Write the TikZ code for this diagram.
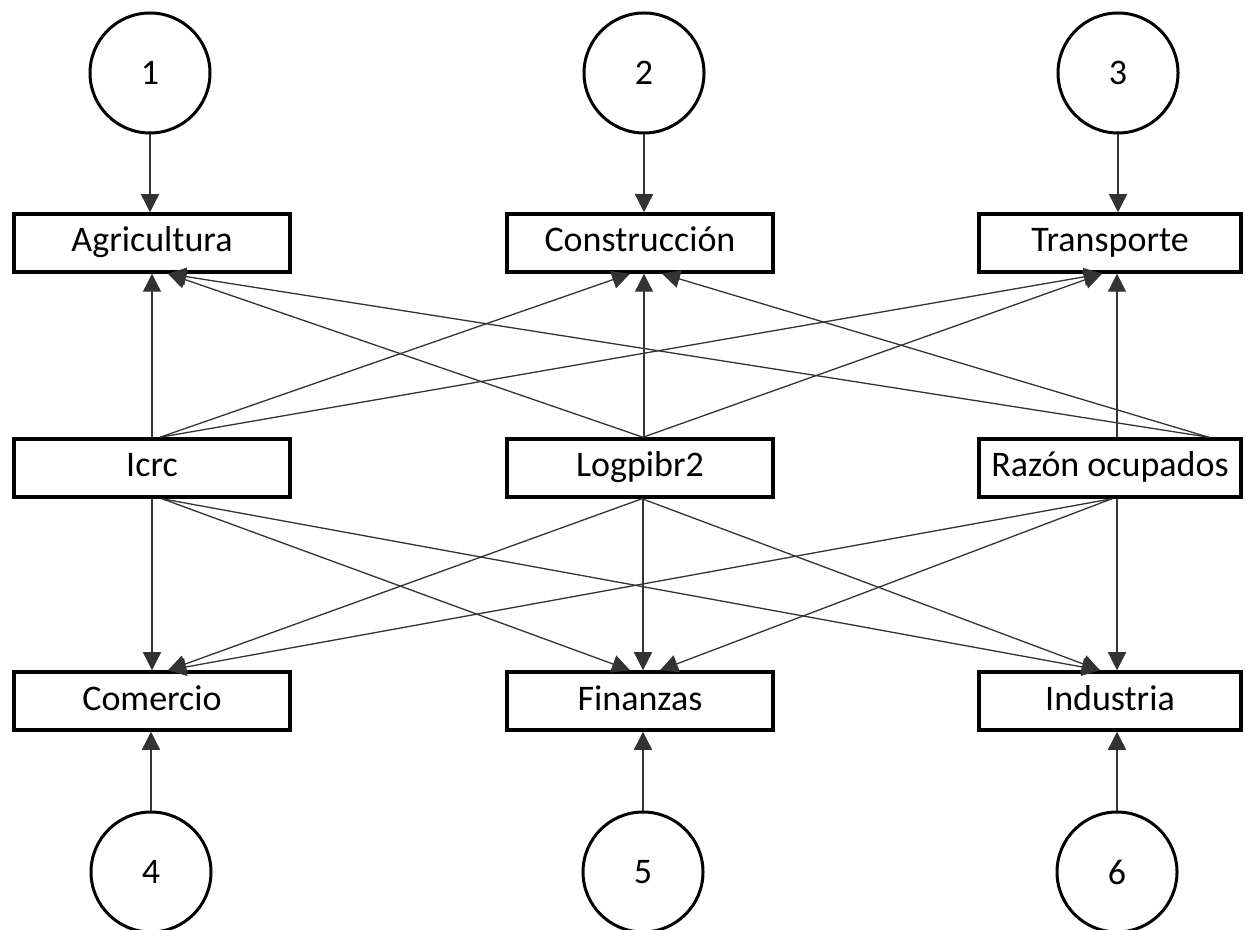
\documentclass[tikz,border=0pt]{standalone}
\usepackage{fontspec}
\setmainfont{Carlito}
\usetikzlibrary{arrows.meta}

\begin{document}
\begin{tikzpicture}[x=1pt,y=1pt,
        font=\fontsize{36}{43}\selectfont,
        box/.style={draw,line width=3.5pt,minimum height=58pt,inner sep=0pt,text height=25pt,text depth=7pt},
        num/.style={draw,circle,line width=3pt,minimum size=120pt,inner sep=0pt},
        arr/.style={draw=black!80,line width=1.3pt,-{Triangle[length=18pt,width=18pt]}}]
        \useasboundingbox (0,0) rectangle (1246,929);

        \node[num] (n1) at (150,856) {1};
        \node[num] (n2) at (644,856) {2};
        \node[num] (n3) at (1118,856) {3};

        \node[box,minimum width=276pt] (agr) at (152,686) {Agricultura};
        \node[box,minimum width=266pt] (con) at (640,686) {Construcción};
        \node[box,minimum width=262pt] (tra) at (1110,686) {Transporte};

        \node[box,minimum width=276pt] (icrc) at (152,461) {Icrc};
        \node[box,minimum width=266pt] (logp) at (640,461) {Logpibr2};
        \node[box,minimum width=262pt] (raz) at (1110,461) {Razón ocupados};

        \node[box,minimum width=276pt] (com) at (152,228) {Comercio};
        \node[box,minimum width=266pt] (fin) at (640,228) {Finanzas};
        \node[box,minimum width=262pt] (ind) at (1110,228) {Industria};

        \node[num] (n4) at (151,57) {4};
        \node[num] (n5) at (643,57) {5};
        \node[num] (n6) at (1117,57) {6};

        \draw[arr] (n1.south) -- (n1 |- agr.north);
        \draw[arr] (n2.south) -- (n2 |- con.north);
        \draw[arr] (n3.south) -- (n3 |- tra.north);
        \draw[arr] (n4.north) -- (n4 |- com.south);
        \draw[arr] (n5.north) -- (n5 |- fin.south);
        \draw[arr] (n6.north) -- (n6 |- ind.south);

        \draw[arr] (icrc.north) -- (agr.south);
        \draw[arr] ([xshift=8pt]icrc.north) -- ([xshift=-10pt]con.south);
        \draw[arr] ([xshift=8pt]icrc.north) -- ([xshift=-8pt]tra.south);
        \draw[arr] ([xshift=3pt]logp.north) -- ([xshift=16pt]agr.south);
        \draw[arr] (n2 |- logp.north) -- (n2 |- con.south);
        \draw[arr] ([xshift=3pt]logp.north) -- ([xshift=-8pt]tra.south);
        \draw[arr] ([xshift=-34pt]raz.north east) -- ([xshift=16pt]agr.south);
        \draw[arr] ([xshift=-34pt]raz.north east) -- ([xshift=22pt]con.south);
        \draw[arr] (n6 |- raz.north) -- (n6 |- tra.south);

        \draw[arr] (icrc.south) -- (com.north);
        \draw[arr] ([xshift=10pt]icrc.south) -- ([xshift=-10pt]fin.north);
        \draw[arr] ([xshift=10pt]icrc.south) -- ([xshift=-10pt]ind.north);
        \draw[arr] ([xshift=2pt]logp.south) -- ([xshift=16pt]com.north);
        \draw[arr] (n5 |- logp.south) -- (n5 |- fin.north);
        \draw[arr] ([xshift=2pt]logp.south) -- ([xshift=-10pt]ind.north);
        \draw[arr] ([xshift=2pt]raz.south) -- ([xshift=16pt]com.north);
        \draw[arr] ([xshift=2pt]raz.south) -- ([xshift=20pt]fin.north);
        \draw[arr] (n6 |- raz.south) -- (n6 |- ind.north);
\end{tikzpicture}
\end{document}
